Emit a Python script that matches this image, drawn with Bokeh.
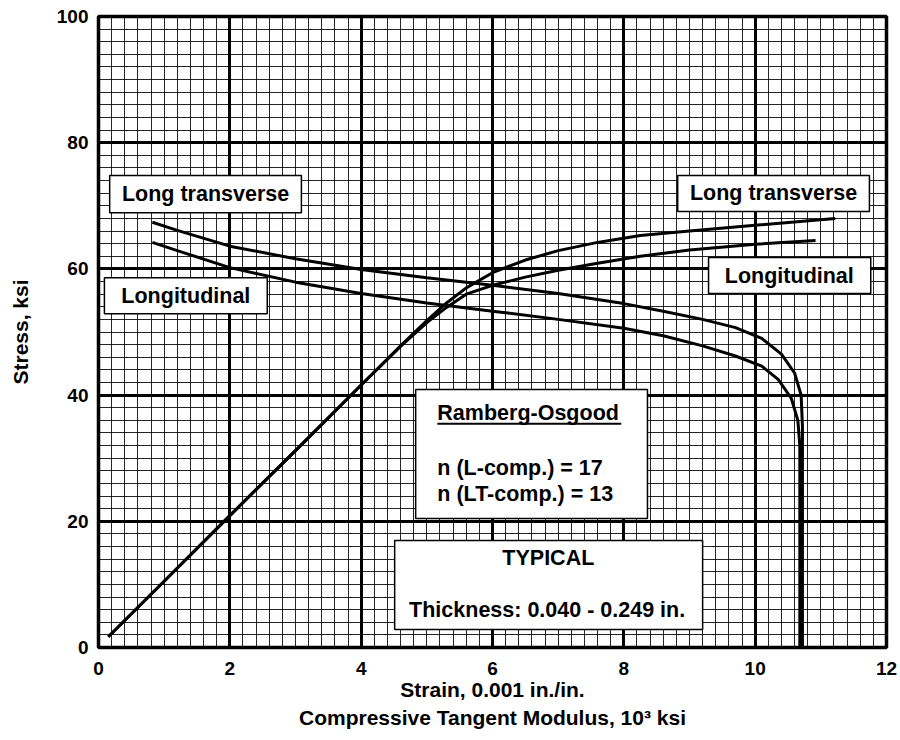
from bokeh.plotting import figure
from bokeh.models import (SingleIntervalTicker, FixedTicker, LinearAxis, BoxAnnotation,
                          Label, Range1d)
from bokeh.embed import file_html
from bokeh.resources import INLINE

# ---------------- data ----------------
ss_lt_strain = [0.15, 1.0, 2.0, 3.0, 4.0, 4.6, 5.0, 5.3, 5.6, 6.0, 6.5, 7.0, 7.6, 8.25, 9.0, 10.0, 11.22]
ss_lt_stress = [1.7, 10.5, 20.9, 31.2, 41.6, 47.8, 51.8, 54.6, 57.0, 59.4, 61.4, 62.9, 64.2, 65.3, 66.0, 66.9, 68.0]

ss_l_strain = [0.15, 1.0, 2.0, 3.0, 4.0, 4.6, 5.0, 5.3, 5.6, 6.0, 6.5, 7.0, 7.6, 8.25, 9.0, 10.0, 10.92]
ss_l_stress = [1.7, 10.5, 20.9, 31.2, 41.6, 47.7, 51.5, 53.9, 56.0, 57.4, 58.7, 59.8, 60.9, 62.0, 63.0, 63.9, 64.5]

tm_lt_mod = [0.82, 1.2, 2.0, 3.0, 4.0, 5.0, 6.0, 7.0, 8.0, 8.6, 9.2, 9.7, 10.1, 10.4, 10.6, 10.7, 10.72, 10.72]
tm_lt_stress = [67.4, 66.1, 63.6, 61.6, 59.9, 58.6, 57.4, 56.1, 54.5, 53.3, 52.0, 50.7, 49.0, 46.5, 43.5, 40.0, 35.0, 0.0]

tm_l_mod = [0.82, 1.2, 2.0, 3.0, 4.0, 5.0, 6.0, 7.0, 8.0, 8.6, 9.2, 9.7, 10.1, 10.35, 10.55, 10.65, 10.68, 10.68]
tm_l_stress = [64.2, 62.9, 60.2, 57.9, 56.1, 54.6, 53.3, 52.0, 50.6, 49.4, 47.8, 46.2, 44.6, 42.5, 39.5, 36.0, 32.0, 0.0]

x_ticks_interval = 2
y_ticks_interval = 20

FONT = "Liberation Sans"

p = figure(width=900, height=740, output_backend="svg", toolbar_location=None,
           x_range=Range1d(0, 12), y_range=Range1d(0, 100),
           min_border_left=98, min_border_right=14, min_border_top=16, min_border_bottom=93,
           x_axis_label="Strain, 0.001 in./in.", y_axis_label="Stress, ksi")
p.background_fill_color = "white"
p.border_fill_color = "white"
p.outline_line_color = "black"
p.outline_line_width = 3.5

xt = SingleIntervalTicker(interval=x_ticks_interval, num_minor_ticks=10)
yt = SingleIntervalTicker(interval=y_ticks_interval, num_minor_ticks=10)
p.xaxis.ticker = xt
p.yaxis.ticker = yt
p.xgrid.ticker = xt
p.ygrid.ticker = yt

for g in (p.xgrid, p.ygrid):
    g.grid_line_color = "black"
    g.grid_line_width = 3
    g.minor_grid_line_color = "black"
    g.minor_grid_line_width = 1
    g.minor_grid_line_alpha = 0.85

for ax in (p.xaxis[0], p.yaxis[0]):
    ax.axis_line_color = None
    ax.major_tick_line_color = None
    ax.minor_tick_line_color = None
    ax.major_tick_out = 0
    ax.major_tick_in = 0
    ax.minor_tick_out = 0
    ax.minor_tick_in = 0
    ax.major_label_text_font = FONT
    ax.major_label_text_font_style = "bold"
    ax.major_label_text_font_size = "19px"
    ax.major_label_text_color = "black"
    ax.axis_label_text_font = FONT
    ax.axis_label_text_font_style = "bold"
    ax.axis_label_text_font_size = "21px"
    ax.axis_label_text_color = "black"

p.xaxis[0].major_label_standoff = 14
p.yaxis[0].major_label_standoff = 10
p.xaxis[0].axis_label_standoff = 0
p.yaxis[0].axis_label_standoff = 22

ax2 = LinearAxis(ticker=FixedTicker(ticks=[]),
                 axis_label="Compressive Tangent Modulus, 10\u00b3 ksi")
ax2.axis_line_color = None
ax2.major_tick_line_color = None
ax2.minor_tick_line_color = None
ax2.major_tick_out = 0
ax2.major_tick_in = 0
ax2.minor_tick_out = 0
ax2.major_label_standoff = 0
ax2.major_label_text_font_size = "0px"
ax2.axis_label_standoff = 2
ax2.axis_label_text_font = FONT
ax2.axis_label_text_font_style = "bold"
ax2.axis_label_text_font_size = "21px"
ax2.axis_label_text_color = "black"
p.add_layout(ax2, "below")

# curves
lw = 3
p.line(ss_lt_strain, ss_lt_stress, line_color="black", line_width=lw)
p.line(ss_l_strain, ss_l_stress, line_color="black", line_width=lw)
p.line(tm_lt_mod, tm_lt_stress, line_color="black", line_width=lw)
p.line(tm_l_mod, tm_l_stress, line_color="black", line_width=lw)

# text boxes
def box(l, r, t, b):
    p.add_layout(BoxAnnotation(left=l, right=r, top=t, bottom=b, fill_color="white",
                               fill_alpha=1.0, line_color="black", line_width=1.5,
                               line_alpha=1.0))

def txt(x, y, s, align="center", size="21.5px"):
    p.add_layout(Label(x=x, y=y, text=s, text_font=FONT, text_font_style="bold",
                       text_font_size=size, text_align=align, text_baseline="middle",
                       text_color="black"))

box(0.17, 3.09, 74.8, 68.9)
box(0.09, 2.57, 58.6, 52.9)
box(8.82, 11.74, 74.8, 69.1)
box(9.29, 11.76, 61.8, 56.1)
box(4.83, 8.36, 40.9, 20.45)
box(4.51, 9.2, 16.96, 2.85)

txt(1.63, 71.85, "Long transverse")
txt(1.33, 55.75, "Longitudinal")
txt(10.28, 71.95, "Long transverse")
txt(10.52, 58.95, "Longitudinal")

txt(5.16, 37.1, "Ramberg-Osgood", align="left")
p.add_layout(BoxAnnotation(left=5.16, right=7.96, top=35.6, bottom=35.3,
                           fill_color="black", fill_alpha=1.0, line_color=None))
txt(5.16, 28.5, "n (L-comp.) = 17", align="left")
txt(5.16, 24.4, "n (LT-comp.) = 13", align="left")

txt(6.85, 14.2, "TYPICAL")
txt(4.73, 5.9, "Thickness: 0.040 - 0.249 in.", align="left")

open("out.html", "w").write(file_html(p, INLINE))
